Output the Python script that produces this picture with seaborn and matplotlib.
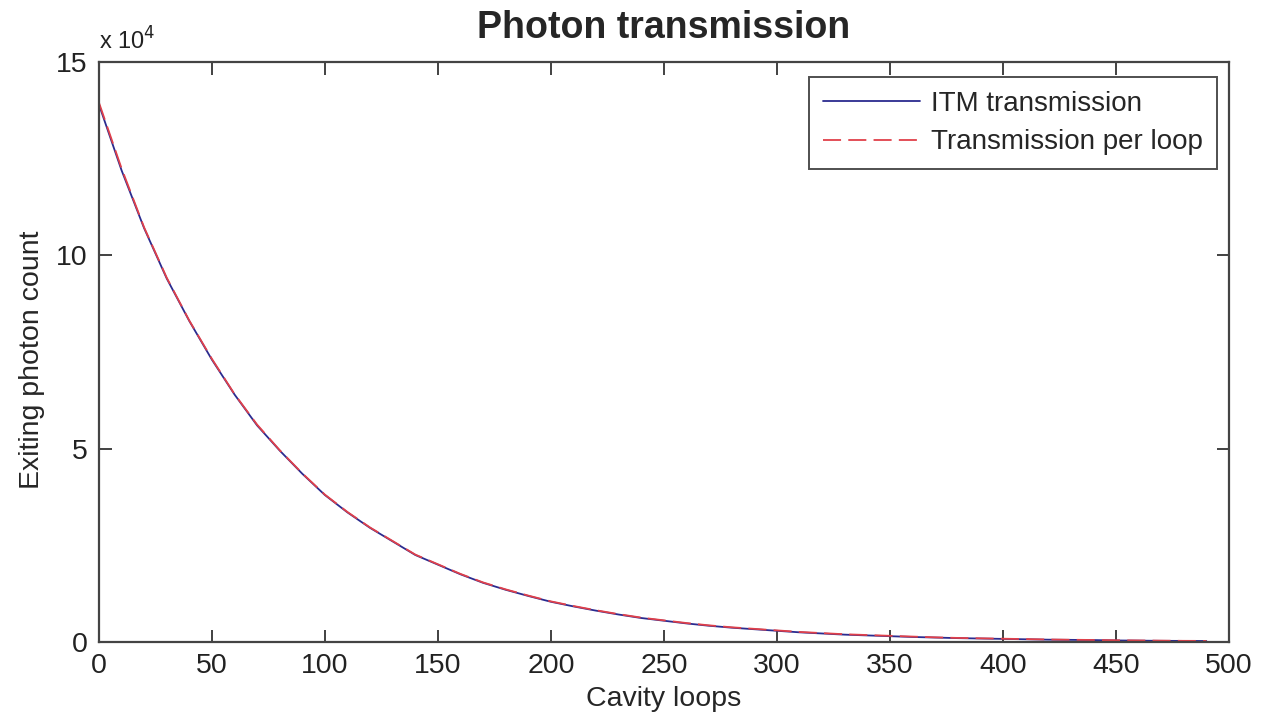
import numpy as np
import pandas as pd
import matplotlib
matplotlib.use("Agg")
import matplotlib.pyplot as plt
import seaborn as sns

# Data (photon counts in units of 1e4)
loops = [0, 10, 20, 30, 40, 50, 60, 70, 80, 90, 100, 110, 120, 130, 140, 150,
         160, 170, 180, 190, 200, 210, 220, 230, 240, 250, 260, 270, 280, 290,
         300, 310, 320, 330, 340, 350, 360, 370, 380, 390, 400, 410, 420, 430,
         440, 450, 460, 470, 480, 490]
itm_transmission = [13.9, 12.2, 10.7, 9.4, 8.3, 7.3, 6.4, 5.6, 4.95, 4.35, 3.8,
                    3.35, 2.95, 2.6, 2.25, 2.0, 1.75, 1.53, 1.35, 1.19, 1.04,
                    0.92, 0.81, 0.71, 0.62, 0.55, 0.48, 0.42, 0.37, 0.33, 0.29,
                    0.25, 0.22, 0.19, 0.17, 0.15, 0.13, 0.115, 0.10, 0.09, 0.08,
                    0.07, 0.06, 0.055, 0.05, 0.04, 0.035, 0.03, 0.028, 0.025]
per_loop_transmission = [13.95, 12.25, 10.72, 9.42, 8.31, 7.32, 6.41, 5.62, 4.96,
                         4.36, 3.81, 3.36, 2.96, 2.61, 2.26, 2.01, 1.76, 1.54,
                         1.36, 1.2, 1.05, 0.93, 0.82, 0.72, 0.63, 0.56, 0.49,
                         0.43, 0.38, 0.34, 0.3, 0.26, 0.23, 0.2, 0.18, 0.16,
                         0.14, 0.12, 0.105, 0.095, 0.085, 0.075, 0.065, 0.058,
                         0.052, 0.045, 0.04, 0.035, 0.03, 0.028]
series_names = ["ITM transmission", "Transmission per loop"]
x_ticks = [0, 50, 100, 150, 200, 250, 300, 350, 400, 450, 500]
y_ticks = [0, 5, 10, 15]

sns.set_style("white")
plt.rcParams['font.family'] = ['Liberation Sans', 'DejaVu Sans']

df = pd.DataFrame({
    "loops": loops * 2,
    "count": itm_transmission + per_loop_transmission,
    "series": [series_names[0]] * len(loops) + [series_names[1]] * len(loops),
})

fig = plt.figure(figsize=(12.62, 7.19), dpi=100)
ax = fig.add_axes([0.0784, 0.1071, 0.8954, 0.8067])

sns.lineplot(data=df, x="loops", y="count", hue="series", style="series",
             palette={series_names[0]: "#2b2b8f", series_names[1]: "#e0404a"},
             dashes={series_names[0]: "", series_names[1]: (10, 4)},
             linewidth=1.3, ax=ax, legend=True)

ax.set_xlim(0, 500)
ax.set_ylim(0, 15)
ax.set_xticks(x_ticks)
ax.set_yticks(y_ticks)
ax.tick_params(direction="in", length=9, width=1.3, colors="#333333",
               labelsize=20.5, top=True, right=True, bottom=True, left=True,
               pad=8)
for lab in ax.get_xticklabels() + ax.get_yticklabels():
    lab.set_color("#222222")
for sp in ax.spines.values():
    sp.set_color("#444444")
    sp.set_linewidth(1.6)

ax.set_title("Photon transmission", fontsize=27, fontweight="bold", pad=17)
ax.set_xlabel("Cavity loops", fontsize=20.5, labelpad=5)
ax.set_ylabel("Exiting photon count", fontsize=20.5)
ax.yaxis.set_label_coords(-0.048, 0.486)
ax.text(0.0, 1.012, r"x 10$^4$", transform=ax.transAxes, fontsize=17,
        ha="left", va="bottom", color="#222222")

leg = ax.legend(loc="upper right", bbox_to_anchor=(0.9894, 0.9740),
                fontsize=20, frameon=True, fancybox=False, handlelength=3.5,
                handletextpad=0.4, borderpad=0.5, labelspacing=0.45,
                borderaxespad=0.0)
leg.get_frame().set_edgecolor("#222222")
leg.get_frame().set_linewidth(1.4)

fig.savefig("out.png", dpi=100)
